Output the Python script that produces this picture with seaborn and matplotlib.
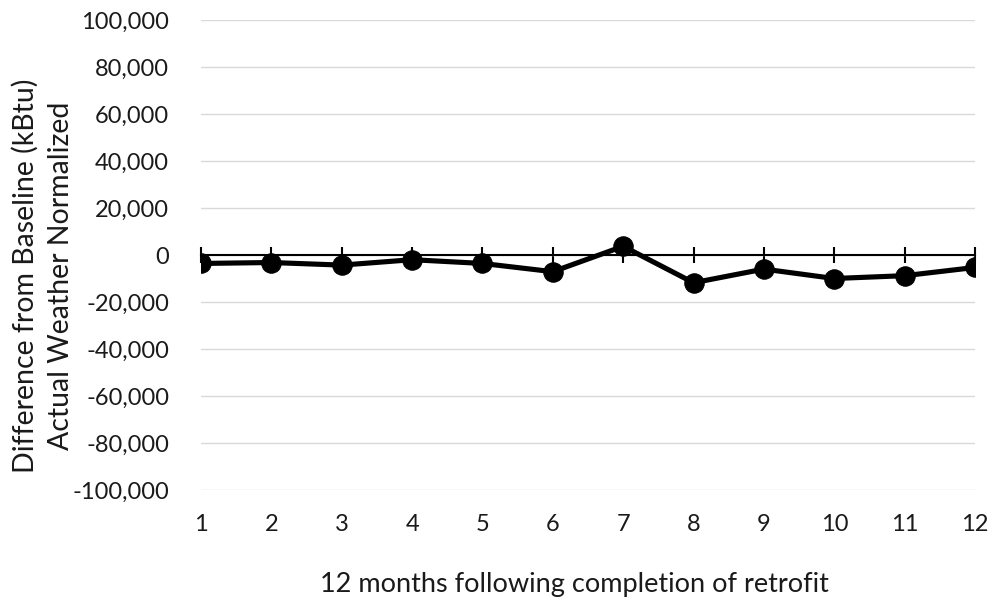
import matplotlib
matplotlib.use("Agg")
import matplotlib.pyplot as plt
import seaborn as sns
import pandas as pd
from matplotlib.ticker import FuncFormatter

months = [1, 2, 3, 4, 5, 6, 7, 8, 9, 10, 11, 12]
difference = [-3600, -3200, -4300, -2000, -3600, -7100, 3700, -11800, -6000, -10000, -8800, -5300]
y_ticks = [-100000, -80000, -60000, -40000, -20000, 0, 20000, 40000, 60000, 80000, 100000]

df = pd.DataFrame({"month": months, "diff": difference})

sns.set_theme(style="white")
plt.rcParams["font.family"] = ["Lato", "DejaVu Sans"]

TXT = "#1a1a1a"

fig = plt.figure(figsize=(9.92, 6.03), dpi=100)
ax = fig.add_axes([201 / 992, 1 - 490 / 603, (975 - 201) / 992, (490 - 20) / 603])

sns.lineplot(data=df, x="month", y="diff", ax=ax, color="black", linewidth=3.7,
             marker="o", markersize=14, markeredgecolor="black", zorder=5)

ax.set_xlim(1, 12)
ax.set_ylim(-100000, 100000)
ax.set_yticks(y_ticks)
ax.yaxis.set_major_formatter(FuncFormatter(lambda v, p: f"{int(v):,}"))
ax.grid(axis="y", color="#d9d9d9", linewidth=1)
ax.set_axisbelow(True)

for s in ["left", "right", "top"]:
    ax.spines[s].set_visible(False)
ax.spines["bottom"].set_position(("data", 0))
ax.spines["bottom"].set_color("black")
ax.spines["bottom"].set_linewidth(1.5)
ax.spines["bottom"].set_zorder(3)

ax.set_xticks(months)
ax.tick_params(axis="x", direction="inout", length=12, width=1.5, color="black",
               labelbottom=False, bottom=True)
ax.tick_params(axis="y", left=False, labelsize=17, colors=TXT, pad=17)

sec = ax.secondary_xaxis(0)
sec.set_xticks(months)
sec.set_xticklabels([str(m) for m in months])
sec.spines["bottom"].set_visible(False)
sec.tick_params(axis="x", length=0, labelsize=17, colors=TXT, pad=17)
sec.set_xlabel("12 months following completion of retrofit", fontsize=19.5,
               color=TXT, labelpad=27)
sec.xaxis.label.set_x(0.483)

ax.set_xlabel("")
ax.set_ylabel("Difference from Baseline (kBtu)\nActual Weather Normalized",
              fontsize=20.5, color=TXT, linespacing=1.45)
ax.yaxis.set_label_coords(-0.164, 0.455)

fig.savefig("out.png", dpi=100)
